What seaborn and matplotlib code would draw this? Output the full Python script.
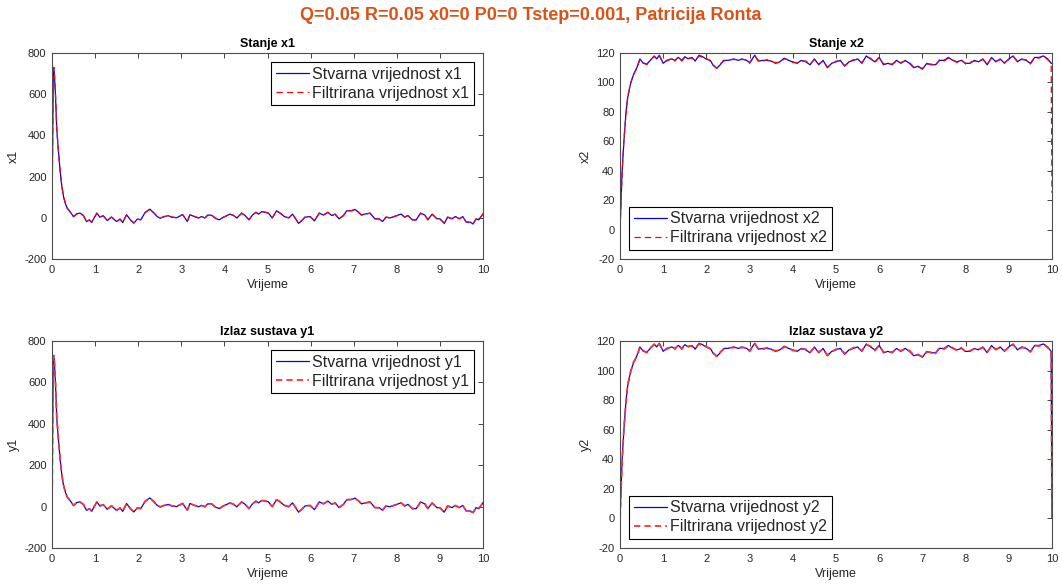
import matplotlib
matplotlib.use('Agg')
import matplotlib.pyplot as plt
import seaborn as sns
import pandas as pd

# ---------------- data ----------------
t_x1 = [0, 0.03, 0.05, 0.08, 0.11, 0.15, 0.19, 0.23, 0.27, 0.31, 0.35, 0.40, 0.45, 0.50,
        0.57, 0.65, 0.73, 0.80, 0.87, 0.92, 1.04, 1.11, 1.19, 1.28, 1.38, 1.50, 1.58, 1.64,
        1.73, 1.83, 1.90, 1.98, 2.06, 2.16, 2.27, 2.35, 2.44, 2.51, 2.60, 2.70, 2.78, 2.89,
        3.03, 3.14, 3.20, 3.30, 3.40, 3.47, 3.55, 3.61, 3.70, 3.78, 3.88, 3.98, 4.05, 4.13,
        4.21, 4.29, 4.40, 4.48, 4.57, 4.65, 4.73, 4.79, 4.87, 4.94, 5.02, 5.11, 5.21, 5.29,
        5.39, 5.49, 5.58, 5.64, 5.72, 5.79, 5.87, 5.99, 6.09, 6.20, 6.30, 6.40, 6.49, 6.57,
        6.66, 6.76, 6.84, 6.95, 7.03, 7.11, 7.18, 7.26, 7.38, 7.49, 7.59, 7.67, 7.75, 7.84,
        7.93, 8.03, 8.10, 8.18, 8.26, 8.36, 8.45, 8.55, 8.65, 8.72, 8.82, 8.93, 9.00, 9.10,
        9.18, 9.28, 9.36, 9.45, 9.53, 9.61, 9.70, 9.77, 9.84, 9.90, 9.98, 10.0]

x1_true = [0, 730, 715, 600, 430, 320, 225, 150, 100, 70,
           48, 35, 20, 6, 19, 23, 10, -18, -10, -23,
           23, 3, 10, -13, 3, -18, -6, -23, 15, -13,
           -26, -6, -10, 26, 42, 26, 6, -2, 6, 10,
           3, 0, 16, -18, 15, 6, -1, 6, -1, 13,
           13, -1, -10, 3, 10, 18, 11, -1, 23, 11,
           -10, 13, 27, 18, 30, 27, 23, -1, 34, 23,
           6, -1, 18, -1, -27, -15, 3, 6, -15, 23,
           13, 27, 11, 18, -5, 11, 34, 34, 41, 27,
           13, 18, 23, -5, -5, -18, 3, -1, 6, 13,
           18, 3, 11, -10, -10, 23, 13, -10, 18, -5,
           -5, -27, 3, -5, 6, -5, 6, -21, -21, -30,
           -5, -10, 13, 20]

x1_filt = [0, 725, 730, 605, 435, 322, 228, 152, 101, 71,
           47, 34, 21, 5, 18, 22, 11, -16, -11, -21,
           22, 4, 9, -12, 4, -17, -7, -21, 14, -12,
           -24, -7, -9, 25, 41, 27, 7, -1, 5, 11,
           4, 1, 15, -16, 14, 7, 0, 5, 0, 12,
           14, 0, -9, 4, 9, 17, 12, 0, 22, 12,
           -9, 12, 26, 19, 29, 28, 22, 0, 33, 24,
           7, 0, 17, 0, -25, -14, 4, 5, -14, 22,
           14, 26, 12, 17, -4, 10, 33, 35, 40, 28,
           14, 17, 22, -4, -6, -17, 4, 0, 5, 12,
           19, 4, 10, -9, -11, 22, 14, -9, 17, -4,
           -6, -25, 4, -4, 5, -4, 5, -20, -22, -28,
           -6, -9, 12, 19]

t_x2 = [0, 0.05, 0.09, 0.14, 0.18, 0.25, 0.31, 0.39, 0.46, 0.54,
        0.62, 0.69, 0.79, 0.85, 0.91, 1.00, 1.08, 1.20, 1.27, 1.35,
        1.43, 1.50, 1.58, 1.67, 1.74, 1.83, 1.91, 1.99, 2.09, 2.16,
        2.24, 2.32, 2.40, 2.51, 2.63, 2.74, 2.82, 2.93, 3.00, 3.12,
        3.20, 3.32,
        3.4, 3.5, 3.6, 3.7, 3.8, 3.9, 4.0, 4.1, 4.2, 4.3,
        4.4, 4.5, 4.6, 4.7, 4.8, 4.9, 5.0, 5.1, 5.2, 5.3,
        5.4, 5.5, 5.6, 5.7, 5.8, 5.9, 6.0, 6.1, 6.2, 6.3,
        6.4, 6.5, 6.6, 6.7, 6.8, 6.9, 7.0, 7.1, 7.2, 7.3,
        7.4, 7.5, 7.6, 7.7, 7.8, 7.9, 8.0, 8.1, 8.2, 8.3,
        8.4, 8.5, 8.6, 8.7, 8.8, 8.9, 9.0, 9.1, 9.2, 9.3,
        9.4, 9.5, 9.6, 9.7, 9.8, 9.9,
        9.98, 10.0]

# values up to t = 9.98; the final sample (t = 10) is given separately below
x2_true_body = [0, 40, 60, 80, 90, 100, 105, 110, 116, 113,
                112.5, 114.6, 118, 116, 118.5, 113, 115, 116, 115, 117,
                115, 117.5, 116, 117, 114.5, 118.5, 117.5, 116, 115, 111.5,
                109.7, 112, 115, 115, 116, 115, 116, 115, 113.5, 118.5,
                114.5, 115,
                115, 114.5, 113, 114, 116.5, 115, 114, 113, 115, 114,
                112, 116, 112, 115, 110, 113, 114, 115, 111, 114,
                115, 116, 113, 118, 116, 114, 117, 112, 113, 112,
                115, 113, 115, 113, 110, 111, 109, 113, 112, 112,
                115, 115, 117, 115, 114, 115, 113, 113, 115, 114,
                116, 112, 117, 114, 116, 113, 116, 118, 114, 116,
                115, 113, 117, 117, 118, 116,
                113]

x2_filt_body = [0, 39, 61, 79, 91, 99.5, 105.5, 109.5, 115.5, 113.5,
                112, 115, 117.5, 116.5, 118, 113.5, 114.5, 116.5, 114.5, 117.5,
                114.5, 117, 116.5, 116.5, 115, 118, 117, 116.5, 114.5, 112,
                109.5, 112.5, 114.5, 115.5, 115.5, 115.5, 115.5, 115.5, 113, 118,
                115, 114.5,
                115.5, 114, 113.5, 113.5, 116, 115.5, 113.5, 113.5, 114.5, 114.5,
                112.5, 115.5, 112.5, 114.5, 110.5, 112.5, 114.5, 114.5, 111.5, 113.5,
                115.5, 115.5, 113.5, 117.5, 116.5, 113.5, 117, 112.5, 112.5, 112.5,
                114.5, 113.5, 114.5, 113.5, 110.5, 110.5, 109.5, 112.5, 112.5, 111.5,
                115.5, 114.5, 116.5, 115.5, 113.5, 115.5, 112.5, 113.5, 114.5, 114.5,
                115.5, 112.5, 116.5, 114.5, 115.5, 113.5, 115.5, 117.5, 114.5, 115.5,
                115.5, 112.5, 117, 116.5, 118, 115.5,
                113.5]

x2_true_end = 113
x2_filt_end = 25
y2_true_end = 0
y2_filt_end = 0

# outputs y1 coincide with state x1 in the reference
y1_true = x1_true
y1_filt = x1_filt
x2_true = x2_true_body + [x2_true_end]
x2_filt = x2_filt_body + [x2_filt_end]
y2_true = x2_true_body + [y2_true_end]
y2_filt = x2_filt_body + [y2_filt_end]

suptitle = 'Q=0.05 R=0.05 x0=0 P0=0 Tstep=0.001, Patricija Ronta'
x_ticks = list(range(0, 11))
yticks_1 = [-200, 0, 200, 400, 600, 800]
yticks_2 = [-20, 0, 20, 40, 60, 80, 100, 120]

# ---------------- style ----------------
sns.set_theme(style='white')
plt.rcParams['font.family'] = ['Liberation Sans', 'DejaVu Sans']
plt.rcParams['lines.scale_dashes'] = False
plt.rcParams['axes.unicode_minus'] = False

fig = plt.figure(figsize=(10.62, 5.85), dpi=100)
W, H = 1062.0, 585.0


def box(l, t, r, b):
    return [l / W, 1 - b / H, (r - l) / W, (b - t) / H]


def draw(ax, t, true, filt, name, title, ylim, yticks, loc, red, red_lw):
    df = pd.DataFrame({'t': t, 'true': true, 'filt': filt})
    sns.lineplot(data=df, x='t', y='true', ax=ax, color='#0000ff', linewidth=0.9,
                 estimator=None, sort=False, label=f'Stvarna vrijednost {name}')
    sns.lineplot(data=df, x='t', y='filt', ax=ax, color=red, linewidth=red_lw,
                 linestyle=(0, (4.5, 3)), estimator=None, sort=False,
                 label=f'Filtrirana vrijednost {name}')
    ax.set_xlim(0, 10)
    ax.set_ylim(*ylim)
    ax.set_xticks(x_ticks)
    ax.set_yticks(yticks)
    ax.set_title(title, fontsize=9, fontweight='bold', color='black', pad=4)
    ax.set_xlabel('Vrijeme', fontsize=9, color='#262626', labelpad=3)
    ax.set_ylabel(name, fontsize=9, color='#262626', labelpad=3)
    ax.tick_params(direction='in', top=True, right=True, length=3.5, width=0.6,
                   colors='#262626', labelsize=8, pad=4)
    for s in ax.spines.values():
        s.set_visible(True)
        s.set_color('#4d4d4d')
        s.set_linewidth(0.8)
    leg = ax.legend(loc=loc, fontsize=11.5, frameon=True, fancybox=False,
                    edgecolor='black', framealpha=1, handlelength=2.1,
                    handletextpad=0.2, borderpad=0.3, labelspacing=0.25,
                    borderaxespad=0.55)
    leg.get_frame().set_linewidth(0.8)


ax1 = fig.add_axes(box(52, 53, 483, 259))
ax2 = fig.add_axes(box(620, 53, 1052, 259))
ax3 = fig.add_axes(box(52, 341, 483, 548))
ax4 = fig.add_axes(box(620, 341, 1052, 548))

draw(ax1, t_x1, x1_true, x1_filt, 'x1', 'Stanje x1', (-200, 800), yticks_1,
     'upper right', '#ff0000', 0.9)
draw(ax2, t_x2, x2_true, x2_filt, 'x2', 'Stanje x2', (-20, 120), yticks_2,
     'lower left', '#ff0000', 0.9)
draw(ax3, t_x1, y1_true, y1_filt, 'y1', 'Izlaz sustava y1', (-200, 800), yticks_1,
     'upper right', '#ff3030', 1.3)
draw(ax4, t_x2, y2_true, y2_filt, 'y2', 'Izlaz sustava y2', (-20, 120), yticks_2,
     'lower left', '#ff3030', 1.3)

fig.text(0.5, 1 - 16 / H, suptitle, ha='center', va='center', fontsize=13,
         fontweight='bold', color='#d95319')

fig.savefig('out.png', dpi=100)
